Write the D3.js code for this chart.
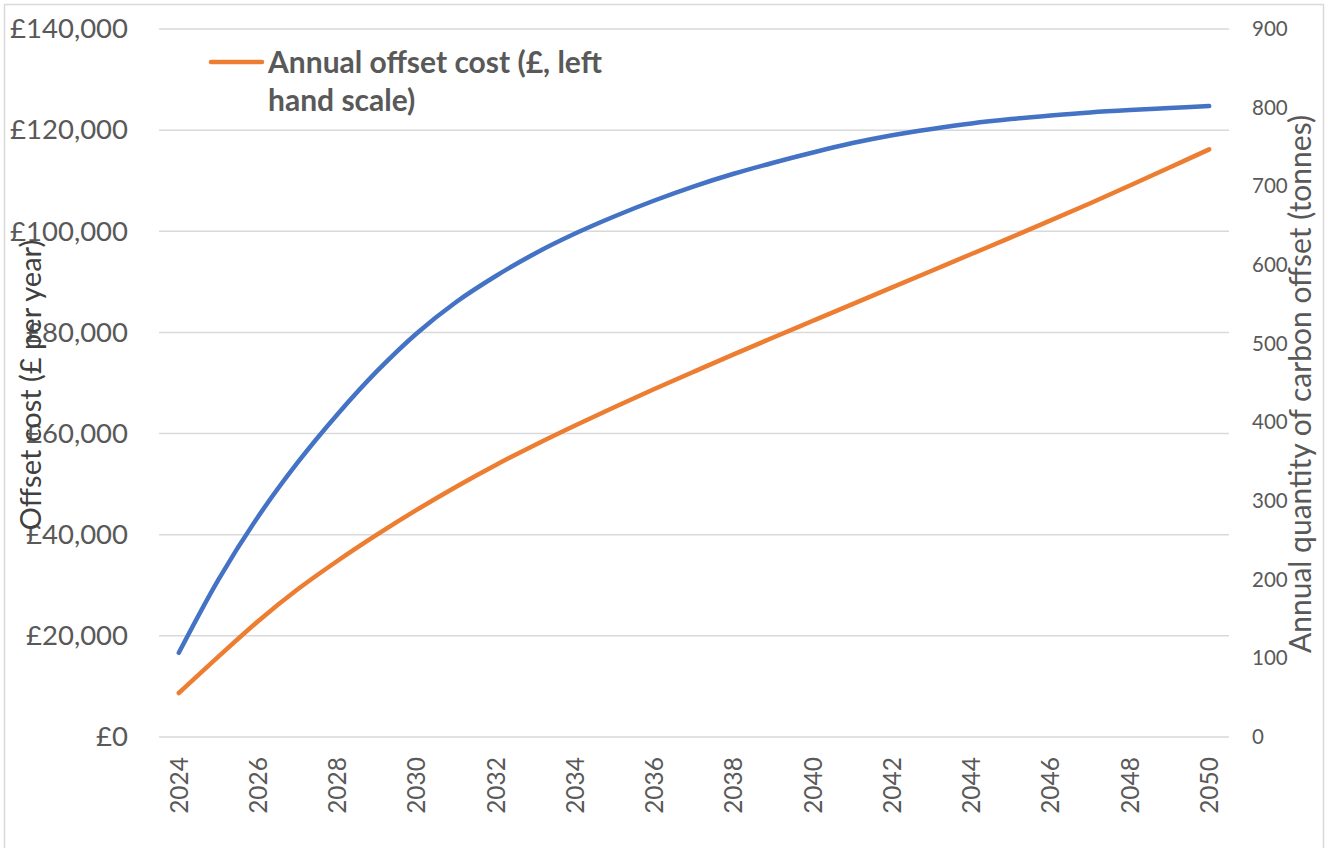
<!DOCTYPE html>
<html>
<head>
<meta charset="utf-8">
<script src="https://cdn.jsdelivr.net/npm/d3@7"></script>
<style>
  body { margin: 0; background: #fff; }
  svg { display: block; }
  text { font-family: Lato, "Open Sans", sans-serif; }
</style>
</head>
<body>
<svg id="chart" width="1328" height="848"></svg>
<script>
// years on the x axis
var years = d3.range(2024, 2051).map(String);

// Annual offset cost (£), left scale
var cost = [8700, 15900, 22900, 29200, 34800, 40000, 44900, 49500, 53800, 57800,
            61600, 65250, 68800, 72250, 75650, 79000, 82300, 85600, 88900, 92200,
            95500, 98800, 102150, 105550, 109050, 112600, 116200];

// Annual quantity of carbon offset (tonnes), right scale
var tonnes = [107, 200, 280, 349, 410, 465, 513, 553, 586, 615,
              640, 662, 682, 700, 716, 730, 743, 755, 765, 773,
              780, 785.5, 790, 794, 797, 799.5, 802];

var leftTicks = [0, 20000, 40000, 60000, 80000, 100000, 120000, 140000];
var rightTicks = [0, 100, 200, 300, 400, 500, 600, 700, 800, 900];

var svg = d3.select("#chart");

// outer frame
svg.append("rect")
    .attr("x", 4.5).attr("y", 4.5)
    .attr("width", 1319).attr("height", 850)
    .attr("fill", "none")
    .attr("stroke", "#d9d9d9")
    .attr("stroke-width", 1.5);

var x = d3.scalePoint().domain(years).range([159, 1229]).padding(0.5);
var yL = d3.scaleLinear().domain([0, 140000]).range([737, 29]);
var yR = d3.scaleLinear().domain([0, 900]).range([737, 29]);

// gridlines
svg.append("g")
    .selectAll("line")
    .data(leftTicks)
    .enter().append("line")
    .attr("x1", 159).attr("x2", 1229)
    .attr("y1", function(d) { return yL(d); })
    .attr("y2", function(d) { return yL(d); })
    .attr("stroke", "#d9d9d9")
    .attr("stroke-width", 1.5);

// left axis labels
var fmt = d3.format(",");
var gL = svg.append("g")
    .attr("transform", "translate(128,0)")
    .call(d3.axisLeft(yL).tickValues(leftTicks).tickSize(0).tickPadding(0)
        .tickFormat(function(d) { return "£" + fmt(d); }));
gL.select(".domain").remove();
gL.selectAll("text")
    .attr("font-family", "Lato")
    .attr("font-size", 27.5)
    .attr("fill", "#595959");

// right axis labels
var gR = svg.append("g")
    .attr("transform", "translate(1252,0)")
    .call(d3.axisRight(yR).tickValues(rightTicks).tickSize(0).tickPadding(0));
gR.select(".domain").remove();
gR.selectAll("text")
    .attr("font-family", "Lato")
    .attr("font-size", 20.5)
    .attr("fill", "#595959");

// x axis labels, every second year
svg.append("g")
    .selectAll("text")
    .data(years.filter(function(d, i) { return i % 2 === 0; }))
    .enter().append("text")
    .attr("transform", function(d) { return "translate(" + x(d) + ",757) rotate(-90)"; })
    .attr("text-anchor", "end")
    .attr("dy", "0.36em")
    .attr("font-size", 24.5)
    .attr("fill", "#595959")
    .text(function(d) { return d; });

// axis titles
svg.append("text")
    .attr("transform", "translate(41,385) rotate(-90)")
    .attr("text-anchor", "middle")
    .attr("font-size", 29)
    .attr("fill", "#404040")
    .text("Offset cost (£ per year)");

svg.append("text")
    .attr("transform", "translate(1311,384) rotate(-90)")
    .attr("text-anchor", "middle")
    .attr("font-size", 30)
    .attr("fill", "#595959")
    .text("Annual quantity of carbon offset (tonnes)");

// lines (smoothed like the spreadsheet original)
var lineL = d3.line()
    .x(function(d, i) { return x(years[i]); })
    .y(function(d) { return yL(d); })
    .curve(d3.curveCatmullRom);

var lineR = d3.line()
    .x(function(d, i) { return x(years[i]); })
    .y(function(d) { return yR(d); })
    .curve(d3.curveCatmullRom);

svg.append("path")
    .datum(tonnes)
    .attr("d", lineR)
    .attr("fill", "none")
    .attr("stroke", "#4472C4")
    .attr("stroke-width", 4.5)
    .attr("stroke-linecap", "round")
    .attr("stroke-linejoin", "round");

svg.append("path")
    .datum(cost)
    .attr("d", lineL)
    .attr("fill", "none")
    .attr("stroke", "#ED7D31")
    .attr("stroke-width", 4.5)
    .attr("stroke-linecap", "round")
    .attr("stroke-linejoin", "round");

// legend (only the cost series is listed)
var lg = svg.append("g");
lg.append("line")
    .attr("x1", 211).attr("x2", 262)
    .attr("y1", 62).attr("y2", 62)
    .attr("stroke", "#ED7D31")
    .attr("stroke-width", 4.5)
    .attr("stroke-linecap", "round");
var lt = lg.append("text")
    .attr("x", 268).attr("y", 73)
    .attr("font-size", 30)
    .attr("font-weight", "bold")
    .attr("fill", "#595959");
lt.append("tspan").attr("x", 268).text("Annual offset cost (£, left");
lt.append("tspan").attr("x", 268).attr("dy", 38).text("hand scale)");
</script>
</body>
</html>
